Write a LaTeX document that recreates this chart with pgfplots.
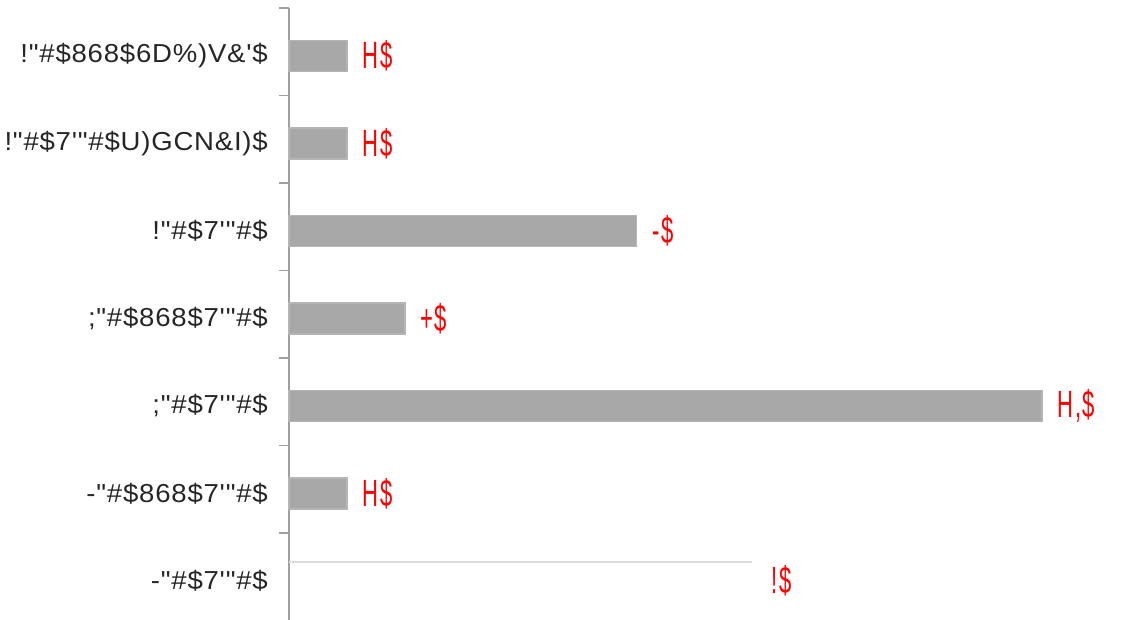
\documentclass[border=0pt]{standalone}
\usepackage{fontspec}
\usepackage{pgfplots}
\pgfplotsset{compat=1.18}
\newfontfamily\labfont{Liberation Sans}[FakeStretch=1.06,LetterSpace=3]
\newfontfamily\valfont{Liberation Sans}[FakeStretch=0.58,LetterSpace=4]
\definecolor{barcol}{HTML}{A8A8A8}
\definecolor{axcol}{HTML}{A0A0A0}
\definecolor{labcol}{HTML}{262626}
\definecolor{thincol}{HTML}{DCDCDC}
\begin{document}
\begin{tikzpicture}
\begin{axis}[
  scale only axis,
  width=840pt, height=612pt,
  xmin=0, xmax=14.5,
  ymin=0.4514, ymax=7.446,
  y dir=reverse,
  axis x line=none,
  axis y line=left,
  axis line style={-, draw=axcol, line width=2pt},
  ytick={1,2,3,4,5,6,7},
  yticklabels={
    {!"\#\$868\$6D\%)V\&'\$},
    {!"\#\$7'"\#\$U)GCN\&I)\$},
    {!"\#\$7'"\#\$},
    {;"\#\$868\$7'"\#\$},
    {;"\#\$7'"\#\$},
    {-"\#\$868\$7'"\#\$},
    {-"\#\$7'"\#\$}},
  major tick length=0pt,
  minor ytick={0.4514,1.45,2.45,3.45,4.45,5.45,6.45},
  minor tick length=10pt,
  tick align=outside,
  minor tick style={draw=axcol, line width=1.5pt},
  yticklabel style={font=\labfont\fontsize{26}{30}\selectfont, text=labcol, inner sep=0pt, xshift=-21pt},
  clip=false,
  nodes near coords,
  point meta=explicit symbolic,
  every node near coord/.append style={font=\valfont\fontsize{38}{42}\selectfont, text=red, anchor=west, inner sep=0pt, xshift=15pt},
]
\addplot[xbar, bar width=31pt, fill=barcol, draw=barcol!85, line width=1.5pt] coordinates {
  (1,1) [{H\$}]
  (1,2) [{H\$}]
  (6,3) [{-\$}]
  (2,4) [{+\$}]
  (13,5) [{H,\$}]
  (1,6) [{H\$}]
};
\addplot[xbar, bar width=2.5pt, bar shift=19pt, fill=thincol, draw=none,
  every node near coord/.append style={xshift=4pt}] coordinates {
  (8,7) [{!\$}]
};
\coordinate (TL) at (axis cs:0,0.4514);
\coordinate (BR) at (axis cs:14.5,7.446);
\end{axis}
\pgfresetboundingbox
\path[use as bounding box] ([shift={(-289pt,8pt)}]TL) rectangle ([shift={(7pt,0pt)}]BR);
\end{tikzpicture}
\end{document}
